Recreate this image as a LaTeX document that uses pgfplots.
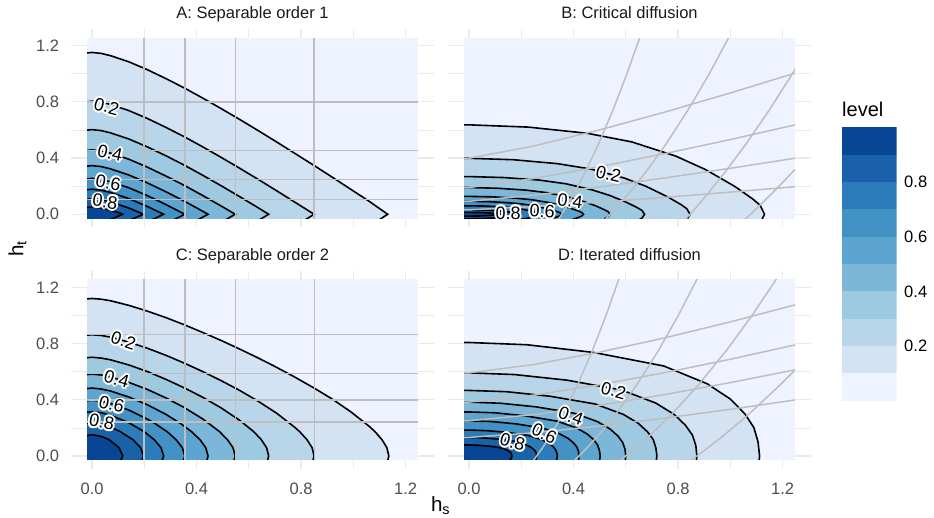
\documentclass[border=0pt]{standalone}
\usepackage{pgfplots}
\pgfplotsset{compat=1.18}
\usepackage{pgfplotstable}
\usepackage{fontspec}
\setmainfont{Liberation Sans}
\definecolor{c1}{HTML}{EFF3FF}
\definecolor{c2}{HTML}{D4E3F4}
\definecolor{c3}{HTML}{B9D5EA}
\definecolor{c4}{HTML}{9ECAE1}
\definecolor{c5}{HTML}{7CB7DA}
\definecolor{c6}{HTML}{5DA5D1}
\definecolor{c7}{HTML}{4292C6}
\definecolor{c8}{HTML}{2C7CBB}
\definecolor{c9}{HTML}{1962AA}
\definecolor{c10}{HTML}{084594}
\definecolor{gridc}{HTML}{EBEBEB}
\definecolor{grayl}{HTML}{BEBEBE}
\definecolor{tickc}{HTML}{4D4D4D}
\definecolor{stripc}{HTML}{1A1A1A}
\newcommand\ticksize{\fontsize{16.5}{19}\selectfont}
\newcommand\labsize{\fontsize{18}{21}\selectfont}
\newcommand\hlo[3]{\makebox[0pt][l]{\hspace*{#1}\raisebox{#2}{\textcolor{white}{#3}}}}
\newcommand\halo[1]{\hlo{2pt}{0pt}{#1}\hlo{1.41pt}{1.41pt}{#1}\hlo{0pt}{2pt}{#1}\hlo{-1.41pt}{1.41pt}{#1}\hlo{-2pt}{0pt}{#1}\hlo{-1.41pt}{-1.41pt}{#1}\hlo{0pt}{-2pt}{#1}\hlo{1.41pt}{-1.41pt}{#1}\hlo{1pt}{0pt}{#1}\hlo{-1pt}{0pt}{#1}\hlo{0pt}{1pt}{#1}\hlo{0pt}{-1pt}{#1}#1}
\newcommand\clab[4]{\node[rotate=#3, inner sep=0pt, font=\labsize] at (axis cs:#1,#2) {\halo{#4}};}
\newcommand\cfill[2]{\addplot[fill=#2, draw=none, forget plot] table {#1};}
\newcommand\clin[1]{\addplot[black, line width=1.6pt, forget plot] table[skip coords between index={0}{1}] {#1};}
\newcommand\gl[1]{\addplot[grayl, line width=1.5pt, forget plot] coordinates {#1};}

% ---------- Panel A: contour tables (first row = closing corner) ----------
\pgfplotstableread[row sep=\\]{x y\\ -0.0354 -0.05\\ -0.0354 1.144\\ 0 1.151\\ 0.0354 1.144\\ 0.0707 1.128\\ 0.1413 1.084\\ 0.212 1.028\\ 0.2827 0.965\\ 0.3534 0.898\\ 0.424 0.826\\ 0.4947 0.751\\ 0.5654 0.674\\ 0.636 0.595\\ 0.7067 0.514\\ 0.777 0.432\\ 0.848 0.349\\ 0.919 0.264\\ 0.989 0.179\\ 1.060 0.093\\ 1.1315 0\\ 1.091 -0.05\\}\cAa
\pgfplotstableread[row sep=\\]{x y\\ -0.0354 -0.05\\ -0.0354 0.797\\ 0 0.804\\ 0.0354 0.797\\ 0.0707 0.781\\ 0.1413 0.737\\ 0.212 0.681\\ 0.2827 0.618\\ 0.3534 0.551\\ 0.424 0.479\\ 0.4947 0.404\\ 0.5654 0.327\\ 0.636 0.248\\ 0.7067 0.167\\ 0.777 0.085\\ 0.850 0\\ 0.807 -0.05\\}\cAb
\pgfplotstableread[row sep=\\]{x y\\ -0.0354 -0.05\\ -0.0354 0.595\\ 0 0.602\\ 0.0354 0.595\\ 0.0707 0.579\\ 0.1413 0.535\\ 0.212 0.479\\ 0.2827 0.416\\ 0.3534 0.349\\ 0.424 0.277\\ 0.4947 0.202\\ 0.5654 0.125\\ 0.636 0.046\\ 0.676 0\\ 0.631 -0.05\\}\cAc
\pgfplotstableread[row sep=\\]{x y\\ -0.0354 -0.05\\ -0.0354 0.451\\ 0 0.458\\ 0.0354 0.451\\ 0.0707 0.435\\ 0.1413 0.391\\ 0.212 0.335\\ 0.2827 0.272\\ 0.3534 0.205\\ 0.424 0.133\\ 0.4947 0.058\\ 0.548 0\\ 0.501 -0.05\\}\cAd
\pgfplotstableread[row sep=\\]{x y\\ -0.0354 -0.05\\ -0.0354 0.339\\ 0 0.346\\ 0.0354 0.339\\ 0.0707 0.323\\ 0.1413 0.279\\ 0.212 0.223\\ 0.2827 0.160\\ 0.3534 0.093\\ 0.424 0.021\\ 0.444 0\\ 0.395 -0.05\\}\cAe
\pgfplotstableread[row sep=\\]{x y\\ -0.0354 -0.05\\ -0.0354 0.248\\ 0 0.255\\ 0.0354 0.248\\ 0.0707 0.232\\ 0.1413 0.188\\ 0.212 0.132\\ 0.2827 0.069\\ 0.355 0\\ 0.302 -0.05\\}\cAf
\pgfplotstableread[row sep=\\]{x y\\ -0.0354 -0.05\\ -0.0354 0.171\\ 0 0.178\\ 0.0354 0.171\\ 0.0707 0.155\\ 0.1413 0.111\\ 0.212 0.055\\ 0.274 0\\ 0.218 -0.05\\}\cAg
\pgfplotstableread[row sep=\\]{x y\\ -0.0354 -0.05\\ -0.0354 0.104\\ 0 0.111\\ 0.0354 0.104\\ 0.0707 0.088\\ 0.1413 0.044\\ 0.197 0\\ 0.134 -0.05\\}\cAh
\pgfplotstableread[row sep=\\]{x y\\ -0.0354 -0.05\\ -0.0354 0.045\\ 0 0.052\\ 0.0354 0.045\\ 0.0707 0.029\\ 0.106 0.009\\ 0.117 0\\ 0.056 -0.05\\}\cAi
% ---------- Panel C ----------
\pgfplotstableread[row sep=\\]{x y\\ -0.0354 -0.12\\ -0.0354 1.115\\ 0 1.120\\ 0.0354 1.115\\ 0.0707 1.104\\ 0.1413 1.071\\ 0.212 1.030\\ 0.2827 0.984\\ 0.3534 0.933\\ 0.424 0.878\\ 0.4947 0.821\\ 0.5654 0.760\\ 0.636 0.697\\ 0.7067 0.630\\ 0.777 0.560\\ 0.848 0.485\\ 0.919 0.405\\ 0.989 0.316\\ 1.060 0.212\\ 1.083 0.173\\ 1.110 0.115\\ 1.1286 0.058\\ 1.1358 0\\ 1.1286 -0.058\\ 1.110 -0.115\\}\cCa
\pgfplotstableread[row sep=\\]{x y\\ -0.0354 -0.12\\ -0.0354 0.857\\ 0 0.862\\ 0.0354 0.857\\ 0.0707 0.845\\ 0.1413 0.810\\ 0.212 0.766\\ 0.2827 0.716\\ 0.3534 0.660\\ 0.424 0.600\\ 0.4947 0.535\\ 0.5654 0.466\\ 0.636 0.389\\ 0.7067 0.304\\ 0.777 0.202\\ 0.7946 0.173\\ 0.823 0.115\\ 0.8424 0.058\\ 0.8499 0\\ 0.8424 -0.058\\ 0.823 -0.115\\}\cCb
\pgfplotstableread[row sep=\\]{x y\\ -0.0354 -0.12\\ -0.0354 0.696\\ 0 0.702\\ 0.0354 0.696\\ 0.0707 0.684\\ 0.1413 0.647\\ 0.212 0.600\\ 0.2827 0.545\\ 0.3534 0.484\\ 0.424 0.417\\ 0.4947 0.341\\ 0.5654 0.253\\ 0.6188 0.173\\ 0.6482 0.115\\ 0.6683 0.058\\ 0.676 0\\ 0.6683 -0.058\\ 0.6482 -0.115\\}\cCc
\pgfplotstableread[row sep=\\]{x y\\ -0.0354 -0.12\\ -0.0354 0.576\\ 0 0.582\\ 0.0354 0.576\\ 0.0707 0.562\\ 0.1413 0.523\\ 0.212 0.473\\ 0.2827 0.413\\ 0.3534 0.344\\ 0.424 0.263\\ 0.488 0.173\\ 0.5187 0.115\\ 0.5397 0.058\\ 0.5479 0\\ 0.5397 -0.058\\ 0.5187 -0.115\\}\cCd
\pgfplotstableread[row sep=\\]{x y\\ -0.0354 -0.12\\ -0.0354 0.476\\ 0 0.483\\ 0.0354 0.476\\ 0.0707 0.462\\ 0.1413 0.419\\ 0.212 0.364\\ 0.2827 0.296\\ 0.3395 0.230\\ 0.3807 0.173\\ 0.4135 0.115\\ 0.4356 0.058\\ 0.444 0\\ 0.4356 -0.058\\ 0.4135 -0.115\\}\cCe
\pgfplotstableread[row sep=\\]{x y\\ -0.0354 -0.12\\ -0.0354 0.389\\ 0 0.396\\ 0.0354 0.389\\ 0.0707 0.373\\ 0.1413 0.326\\ 0.212 0.262\\ 0.2415 0.230\\ 0.2873 0.173\\ 0.322 0.115\\ 0.3458 0.058\\ 0.3549 0\\ 0.3458 -0.058\\ 0.322 -0.115\\}\cCf
\pgfplotstableread[row sep=\\]{x y\\ -0.0354 -0.12\\ -0.0354 0.307\\ 0 0.315\\ 0.0354 0.307\\ 0.0707 0.290\\ 0.1413 0.236\\ 0.1996 0.173\\ 0.2385 0.115\\ 0.2642 0.058\\ 0.2742 0\\ 0.2642 -0.058\\ 0.2385 -0.115\\}\cCg
\pgfplotstableread[row sep=\\]{x y\\ -0.0354 -0.12\\ -0.0354 0.228\\ 0 0.237\\ 0.0354 0.228\\ 0.0707 0.206\\ 0.1082 0.173\\ 0.157 0.115\\ 0.1861 0.058\\ 0.1974 0\\ 0.1861 -0.058\\ 0.157 -0.115\\}\cCh
\pgfplotstableread[row sep=\\]{x y\\ -0.0354 -0.12\\ -0.0354 0.139\\ 0 0.1515\\ 0.0354 0.139\\ 0.0663 0.115\\ 0.1038 0.058\\ 0.1178 0\\ 0.1038 -0.058\\ 0.0663 -0.115\\}\cCi
% ---------- Panel B ----------
\pgfplotstableread[row sep=\\]{x y\\ -0.04 -0.12\\ -0.04 0.636\\ 0 0.636\\ 0.226 0.620\\ 0.452 0.576\\ 0.622 0.515\\ 0.792 0.413\\ 0.905 0.318\\ 1.018 0.197\\ 1.086 0.108\\ 1.114 0.064\\ 1.131 0\\ 1.114 -0.064\\ 1.086 -0.108\\}\cBa
\pgfplotstableread[row sep=\\]{x y\\ -0.04 -0.12\\ -0.04 0.398\\ 0 0.398\\ 0.169 0.388\\ 0.338 0.360\\ 0.465 0.322\\ 0.592 0.259\\ 0.677 0.199\\ 0.761 0.123\\ 0.812 0.068\\ 0.833 0.040\\ 0.846 0\\ 0.833 -0.040\\ 0.812 -0.068\\}\cBb
\pgfplotstableread[row sep=\\]{x y\\ -0.04 -0.12\\ -0.04 0.268\\ 0 0.268\\ 0.134 0.261\\ 0.269 0.243\\ 0.370 0.217\\ 0.470 0.174\\ 0.538 0.134\\ 0.605 0.083\\ 0.645 0.046\\ 0.662 0.027\\ 0.672 0\\ 0.662 -0.027\\ 0.645 -0.046\\}\cBc
\pgfplotstableread[row sep=\\]{x y\\ -0.04 -0.12\\ -0.04 0.190\\ 0 0.190\\ 0.108 0.185\\ 0.216 0.172\\ 0.297 0.154\\ 0.378 0.124\\ 0.432 0.095\\ 0.486 0.059\\ 0.518 0.032\\ 0.532 0.019\\ 0.540 0\\ 0.532 -0.019\\ 0.518 -0.032\\}\cBd
\pgfplotstableread[row sep=\\]{x y\\ -0.04 -0.12\\ -0.04 0.127\\ 0 0.127\\ 0.088 0.124\\ 0.175 0.115\\ 0.241 0.103\\ 0.307 0.083\\ 0.350 0.064\\ 0.394 0.039\\ 0.420 0.022\\ 0.431 0.0127\\ 0.438 0\\ 0.431 -0.0127\\ 0.420 -0.022\\ 0.394 -0.039\\}\cBe
\pgfplotstableread[row sep=\\]{x y\\ -0.04 -0.12\\ -0.04 0.092\\ 0 0.092\\ 0.071 0.090\\ 0.142 0.083\\ 0.195 0.075\\ 0.249 0.060\\ 0.284 0.046\\ 0.320 0.029\\ 0.341 0.016\\ 0.350 0.0092\\ 0.355 0\\ 0.350 -0.0092\\ 0.341 -0.016\\ 0.320 -0.029\\ 0.284 -0.046\\}\cBf
\pgfplotstableread[row sep=\\]{x y\\ -0.04 -0.12\\ -0.04 0.060\\ 0 0.060\\ 0.055 0.0585\\ 0.110 0.054\\ 0.151 0.049\\ 0.192 0.039\\ 0.219 0.030\\ 0.247 0.019\\ 0.263 0.010\\ 0.270 0.006\\ 0.274 0\\ 0.270 -0.006\\ 0.263 -0.010\\ 0.247 -0.019\\ 0.219 -0.030\\ 0.192 -0.039\\}\cBg
\pgfplotstableread[row sep=\\]{x y\\ -0.04 -0.031\\ -0.04 0.031\\ 0 0.031\\ 0.039 0.030\\ 0.079 0.028\\ 0.108 0.025\\ 0.138 0.020\\ 0.158 0.0155\\ 0.177 0.0096\\ 0.189 0.0053\\ 0.194 0.0031\\ 0.197 0\\ 0.194 -0.0031\\ 0.189 -0.0053\\ 0.177 -0.0096\\ 0.158 -0.0155\\ 0.138 -0.020\\ 0.108 -0.025\\ 0.079 -0.028\\ 0.039 -0.030\\ 0 -0.031\\ -0.04 -0.031\\}\cBh
\pgfplotstableread[row sep=\\]{x y\\ -0.04 -0.013\\ -0.04 0.013\\ 0 0.013\\ 0.023 0.0127\\ 0.047 0.0118\\ 0.064 0.0105\\ 0.082 0.0085\\ 0.094 0.0065\\ 0.105 0.004\\ 0.112 0.0022\\ 0.115 0.0013\\ 0.117 0\\ 0.115 -0.0013\\ 0.112 -0.0022\\ 0.105 -0.004\\ 0.094 -0.0065\\ 0.082 -0.0085\\ 0.064 -0.0105\\ 0.047 -0.0118\\ 0.023 -0.0127\\ 0 -0.013\\ -0.04 -0.013\\}\cBi
% ---------- Panel D ----------
\pgfplotstableread[row sep=\\]{x y\\ -0.04 -0.25\\ -0.04 0.807\\ 0 0.807\\ 0.222 0.791\\ 0.478 0.736\\ 0.745 0.640\\ 0.912 0.513\\ 1.001 0.4035\\ 1.056 0.299\\ 1.090 0.202\\ 1.106 0.101\\ 1.112 0\\ 1.106 -0.101\\ 1.090 -0.202\\}\cDa
\pgfplotstableread[row sep=\\]{x y\\ -0.04 -0.25\\ -0.04 0.591\\ 0 0.591\\ 0.174 0.579\\ 0.375 0.539\\ 0.584 0.469\\ 0.715 0.376\\ 0.785 0.2955\\ 0.828 0.219\\ 0.855 0.148\\ 0.868 0.074\\ 0.872 0\\ 0.868 -0.074\\ 0.855 -0.148\\}\cDb
\pgfplotstableread[row sep=\\]{x y\\ -0.04 -0.25\\ -0.04 0.466\\ 0 0.466\\ 0.144 0.457\\ 0.309 0.425\\ 0.482 0.370\\ 0.590 0.296\\ 0.647 0.233\\ 0.683 0.172\\ 0.705 0.1165\\ 0.715 0.058\\ 0.719 0\\ 0.715 -0.058\\ 0.705 -0.1165\\}\cDc
\pgfplotstableread[row sep=\\]{x y\\ -0.04 -0.25\\ -0.04 0.383\\ 0 0.383\\ 0.120 0.375\\ 0.258 0.349\\ 0.402 0.304\\ 0.492 0.244\\ 0.540 0.1915\\ 0.570 0.142\\ 0.588 0.096\\ 0.597 0.048\\ 0.600 0\\ 0.597 -0.048\\ 0.588 -0.096\\}\cDd
\pgfplotstableread[row sep=\\]{x y\\ -0.04 -0.25\\ -0.04 0.313\\ 0 0.313\\ 0.100 0.307\\ 0.216 0.285\\ 0.336 0.248\\ 0.412 0.199\\ 0.452 0.1565\\ 0.477 0.116\\ 0.492 0.078\\ 0.499 0.039\\ 0.502 0\\ 0.499 -0.039\\ 0.492 -0.078\\}\cDe
\pgfplotstableread[row sep=\\]{x y\\ -0.04 -0.25\\ -0.04 0.250\\ 0 0.250\\ 0.084 0.245\\ 0.181 0.228\\ 0.282 0.198\\ 0.345 0.159\\ 0.379 0.125\\ 0.400 0.0925\\ 0.413 0.0625\\ 0.419 0.031\\ 0.421 0\\ 0.419 -0.031\\ 0.413 -0.0625\\}\cDf
\pgfplotstableread[row sep=\\]{x y\\ -0.04 -0.25\\ -0.04 0.184\\ 0 0.184\\ 0.068 0.180\\ 0.145 0.168\\ 0.226 0.146\\ 0.277 0.117\\ 0.304 0.092\\ 0.321 0.068\\ 0.331 0.046\\ 0.336 0.023\\ 0.338 0\\ 0.336 -0.023\\ 0.331 -0.046\\ 0.321 -0.068\\}\cDg
\pgfplotstableread[row sep=\\]{x y\\ -0.04 -0.25\\ -0.04 0.132\\ 0 0.132\\ 0.052 0.129\\ 0.111 0.120\\ 0.174 0.105\\ 0.212 0.084\\ 0.233 0.066\\ 0.246 0.049\\ 0.254 0.033\\ 0.258 0.0165\\ 0.259 0\\ 0.258 -0.0165\\ 0.254 -0.033\\ 0.246 -0.049\\}\cDh
\pgfplotstableread[row sep=\\]{x y\\ -0.04 -0.25\\ -0.04 0.078\\ 0 0.078\\ 0.033 0.076\\ 0.071 0.071\\ 0.110 0.062\\ 0.134 0.050\\ 0.148 0.039\\ 0.156 0.029\\ 0.161 0.0195\\ 0.163 0.0098\\ 0.164 0\\ 0.163 -0.0098\\ 0.161 -0.0195\\ 0.156 -0.029\\ 0.148 -0.039\\}\cDi

\pgfplotsset{
  bgax/.style={scale only axis, width=363.7pt, height=198.1pt, anchor=south west,
    xmin=-0.082, xmax=1.310, ymin=-0.092, ymax=1.317,
    axis line style={draw=none}, major tick length=0pt, minor tick length=0pt,
    xtick={0,0.4,0.8,1.2}, ytick={0,0.4,0.8,1.2},
    minor xtick={0.2,0.6,1.0}, minor ytick={0.2,0.6,1.0},
    grid=both, major grid style={draw=gridc, line width=1.3pt},
    minor grid style={draw=gridc, line width=0.65pt},
    tick label style={font=\ticksize, text=tickc},
    xticklabels={}, yticklabels={}},
  xlab/.style={xticklabels={0.0,0.4,0.8,1.2}, xticklabel style={yshift=-11pt}},
  ylab/.style={yticklabels={0.0,0.4,0.8,1.2}, yticklabel style={xshift=-8pt}},
  fgax/.style={scale only axis, width=330.8pt, height=180.1pt, anchor=south west,
    xmin=-0.019, xmax=1.247, ymin=-0.028, ymax=1.253, hide axis, clip mode=individual, no markers},
}

\begin{document}
\begin{tikzpicture}
\useasboundingbox (0,0) rectangle (934pt,518pt);
% ===== Panel A =====
\begin{axis}[bgax, ylab, at={(70.6pt,290.8pt)}]
\end{axis}
\begin{axis}[fgax, at={(87.06pt,299.8pt)}]
\addplot[fill=c1, draw=none, forget plot] coordinates {(-0.1,-0.1) (1.3,-0.1) (1.3,1.3) (-0.1,1.3)};
\cfill{\cAa}{c2}\cfill{\cAb}{c3}\cfill{\cAc}{c4}\cfill{\cAd}{c5}\cfill{\cAe}{c6}\cfill{\cAf}{c7}\cfill{\cAg}{c8}\cfill{\cAh}{c9}\cfill{\cAi}{c10}
\clin{\cAa}\clin{\cAb}\clin{\cAc}\clin{\cAd}\clin{\cAe}\clin{\cAf}\clin{\cAg}\clin{\cAh}\clin{\cAi}
\gl{(0.199,-0.1) (0.199,1.3)}\gl{(0.355,-0.1) (0.355,1.3)}\gl{(0.549,-0.1) (0.549,1.3)}\gl{(0.849,-0.1) (0.849,1.3)}
\gl{(-0.1,0.80) (1.3,0.80)}\gl{(-0.1,0.452) (1.3,0.452)}\gl{(-0.1,0.247) (1.3,0.247)}\gl{(-0.1,0.105) (1.3,0.105)}
\clab{0.056}{0.766}{-15}{0.2}
\clab{0.069}{0.434}{-12}{0.4}
\clab{0.062}{0.225}{-10}{0.6}
\clab{0.05}{0.09}{-8}{0.8}
\end{axis}
% ===== Panel B =====
\begin{axis}[bgax, at={(447.6pt,290.8pt)}]
\end{axis}
\begin{axis}[fgax, at={(464.06pt,299.8pt)}]
\addplot[fill=c1, draw=none, forget plot] coordinates {(-0.1,-0.1) (1.3,-0.1) (1.3,1.3) (-0.1,1.3)};
\cfill{\cBa}{c2}\cfill{\cBb}{c3}\cfill{\cBc}{c4}\cfill{\cBd}{c5}\cfill{\cBe}{c6}\cfill{\cBf}{c7}\cfill{\cBg}{c8}\cfill{\cBh}{c9}\cfill{\cBi}{c10}
\clin{\cBa}\clin{\cBb}\clin{\cBc}\clin{\cBd}\clin{\cBe}\clin{\cBf}\clin{\cBg}\clin{\cBh}\clin{\cBi}
\gl{(0.3385,-0.05) (0.355,0) (0.3715,0.05) (0.4024,0.15) (0.4448,0.3) (0.4957,0.5) (0.5528,0.75) (0.6045,1.0) (0.654,1.26)}
\gl{(0.515,-0.05) (0.54,0) (0.5651,0.05) (0.6121,0.15) (0.6766,0.3) (0.7541,0.5) (0.8409,0.75) (0.9196,1.0) (0.9948,1.26)}
\gl{(0.822,-0.05) (0.846,0) (0.8698,0.05) (0.9155,0.15) (0.9801,0.3) (1.060,0.5) (1.1523,0.75) (1.2376,1.0) (1.246,1.026) (1.27,1.1)}
\gl{(1.048,-0.05) (1.077,0) (1.1054,0.05) (1.1602,0.15) (1.2125,0.25) (1.246,0.316) (1.27,0.36)}
\gl{(-0.05,0.398) (0,0.398) (0.249,0.486) (0.498,0.599) (0.748,0.726) (0.997,0.861) (1.246,1.003) (1.27,1.02)}
\gl{(-0.05,0.19) (0,0.19) (0.249,0.2545) (0.498,0.338) (0.748,0.431) (0.997,0.530) (1.246,0.635) (1.27,0.645)}
\gl{(-0.05,0.092) (0,0.092) (0.249,0.136) (0.498,0.194) (0.748,0.258) (0.997,0.326) (1.246,0.398) (1.27,0.405)}
\gl{(-0.05,0.031) (0,0.031) (0.249,0.055) (0.498,0.086) (0.748,0.120) (0.997,0.157) (1.246,0.196) (1.27,0.2)}
\clab{0.534}{0.287}{-13}{0.2}
\clab{0.387}{0.095}{-8}{0.4}
\clab{0.28}{0.02}{-3}{0.6}
\clab{0.15}{0.01}{0}{0.8}
\end{axis}
% ===== Panel C =====
\begin{axis}[bgax, xlab, ylab, at={(70.6pt,49.1pt)}]
\end{axis}
\begin{axis}[fgax, at={(87.06pt,58.1pt)}]
\addplot[fill=c1, draw=none, forget plot] coordinates {(-0.1,-0.1) (1.3,-0.1) (1.3,1.3) (-0.1,1.3)};
\cfill{\cCa}{c2}\cfill{\cCb}{c3}\cfill{\cCc}{c4}\cfill{\cCd}{c5}\cfill{\cCe}{c6}\cfill{\cCf}{c7}\cfill{\cCg}{c8}\cfill{\cCh}{c9}\cfill{\cCi}{c10}
\clin{\cCa}\clin{\cCb}\clin{\cCc}\clin{\cCd}\clin{\cCe}\clin{\cCf}\clin{\cCg}\clin{\cCh}\clin{\cCi}
\gl{(0.199,-0.1) (0.199,1.3)}\gl{(0.356,-0.1) (0.356,1.3)}\gl{(0.55,-0.1) (0.55,1.3)}\gl{(0.851,-0.1) (0.851,1.3)}
\gl{(-0.1,0.865) (1.3,0.865)}\gl{(-0.1,0.588) (1.3,0.588)}\gl{(-0.1,0.397) (1.3,0.397)}\gl{(-0.1,0.241) (1.3,0.241)}
\clab{0.12}{0.819}{-18}{0.2}
\clab{0.094}{0.548}{-16}{0.4}
\clab{0.075}{0.367}{-14}{0.6}
\clab{0.037}{0.242}{-10}{0.8}
\end{axis}
% ===== Panel D =====
\begin{axis}[bgax, xlab, at={(447.6pt,49.1pt)}]
\end{axis}
\begin{axis}[fgax, at={(464.06pt,58.1pt)}]
\addplot[fill=c1, draw=none, forget plot] coordinates {(-0.1,-0.1) (1.3,-0.1) (1.3,1.3) (-0.1,1.3)};
\cfill{\cDa}{c2}\cfill{\cDb}{c3}\cfill{\cDc}{c4}\cfill{\cDd}{c5}\cfill{\cDe}{c6}\cfill{\cDf}{c7}\cfill{\cDg}{c8}\cfill{\cDh}{c9}\cfill{\cDi}{c10}
\clin{\cDa}\clin{\cDb}\clin{\cDc}\clin{\cDd}\clin{\cDe}\clin{\cDf}\clin{\cDg}\clin{\cDh}\clin{\cDi}
\gl{(0.24,-0.05) (0.259,0) (0.2783,0.05) (0.3135,0.15) (0.3598,0.3) (0.4136,0.5) (0.4723,0.75) (0.5244,1.0) (0.5737,1.26)}
\gl{(0.394,-0.05) (0.421,0) (0.4477,0.05) (0.4969,0.15) (0.5626,0.3) (0.6399,0.5) (0.7249,0.75) (0.801,1.0) (0.8732,1.26)}
\gl{(0.567,-0.05) (0.6,0) (0.633,0.05) (0.6943,0.15) (0.7772,0.3) (0.8757,0.5) (0.985,0.75) (1.0833,1.0) (1.1769,1.26)}
\gl{(0.8355,-0.05) (0.872,0) (0.9085,0.05) (0.9774,0.15) (1.0726,0.3) (1.1877,0.5) (1.246,0.609) (1.27,0.66)}
\gl{(-0.05,0.591) (0,0.591) (0.249,0.6506) (0.498,0.7377) (0.748,0.8395) (0.997,0.9523) (1.246,1.074) (1.27,1.086)}
\gl{(-0.05,0.383) (0,0.383) (0.249,0.433) (0.498,0.5063) (0.748,0.5919) (0.997,0.6867) (1.246,0.789) (1.27,0.799)}
\gl{(-0.05,0.25) (0,0.25) (0.249,0.2947) (0.498,0.36) (0.748,0.4363) (0.997,0.5208) (1.246,0.612) (1.27,0.621)}
\gl{(-0.05,0.132) (0,0.132) (0.249,0.1648) (0.498,0.2128) (0.748,0.2689) (0.997,0.331) (1.246,0.398) (1.27,0.405)}
\clab{0.553}{0.465}{-15}{0.2}
\clab{0.39}{0.282}{-20}{0.4}
\clab{0.288}{0.16}{-25}{0.6}
\clab{0.167}{0.098}{-15}{0.8}
\end{axis}
% ===== Legend =====
\begin{axis}[at={(841.7pt,117.3pt)}, anchor=south west, scale only axis, width=55pt, height=273.4pt,
  xmin=0, xmax=1, ymin=0, ymax=1, axis line style={draw=none}, xtick=\empty,
  ytick={0.2,0.4,0.6,0.8}, yticklabels={0.2,0.4,0.6,0.8}, yticklabel pos=right,
  major tick length=0pt, yticklabel style={font=\ticksize, text=black, xshift=4pt}]
\addplot[fill=c1, draw=none] coordinates {(0,0) (1,0) (1,0.1) (0,0.1)};
\addplot[fill=c2, draw=none] coordinates {(0,0.1) (1,0.1) (1,0.2) (0,0.2)};
\addplot[fill=c3, draw=none] coordinates {(0,0.2) (1,0.2) (1,0.3) (0,0.3)};
\addplot[fill=c4, draw=none] coordinates {(0,0.3) (1,0.3) (1,0.4) (0,0.4)};
\addplot[fill=c5, draw=none] coordinates {(0,0.4) (1,0.4) (1,0.5) (0,0.5)};
\addplot[fill=c6, draw=none] coordinates {(0,0.5) (1,0.5) (1,0.6) (0,0.6)};
\addplot[fill=c7, draw=none] coordinates {(0,0.6) (1,0.6) (1,0.7) (0,0.7)};
\addplot[fill=c8, draw=none] coordinates {(0,0.7) (1,0.7) (1,0.8) (0,0.8)};
\addplot[fill=c9, draw=none] coordinates {(0,0.8) (1,0.8) (1,0.9) (0,0.9)};
\addplot[fill=c10, draw=none] coordinates {(0,0.9) (1,0.9) (1,1) (0,1)};
\end{axis}
% ===== Text =====
\node[anchor=base, font=\ticksize, text=stripc] at (252.5pt,499pt) {A: Separable order 1};
\node[anchor=base, font=\ticksize, text=stripc] at (629.5pt,499pt) {B: Critical diffusion};
\node[anchor=base, font=\ticksize, text=stripc] at (252.5pt,257.5pt) {C: Separable order 2};
\node[anchor=base, font=\ticksize, text=stripc] at (629.5pt,257.5pt) {D: Iterated diffusion};
\node[anchor=base, font=\fontsize{20.6}{24}\selectfont] at (440.6pt,6.3pt) {h\textsubscript{s}};
\node[anchor=base, rotate=90, font=\fontsize{20.6}{24}\selectfont] at (23.3pt,269pt) {h\textsubscript{t}};
\node[anchor=base west, inner sep=0pt, font=\fontsize{20}{24}\selectfont] at (842pt,401.3pt) {level};
\end{tikzpicture}
\end{document}
